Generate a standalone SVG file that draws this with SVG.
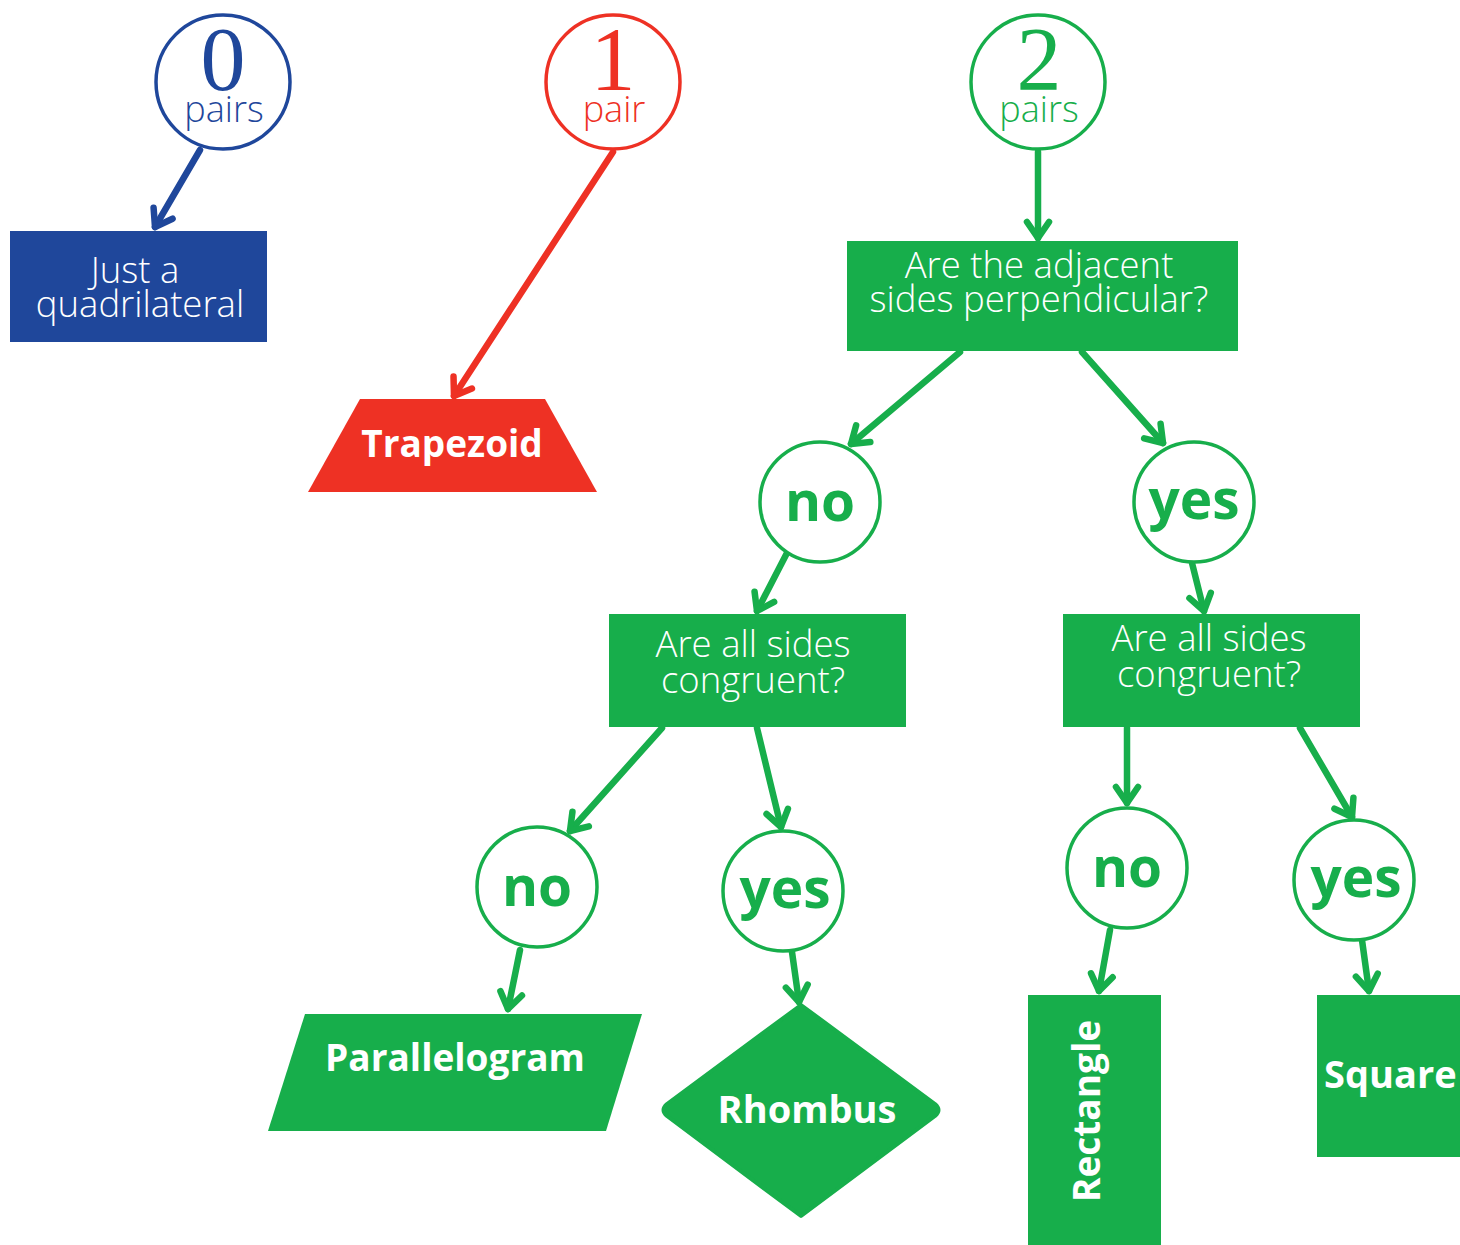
<svg xmlns="http://www.w3.org/2000/svg" width="1460" height="1245" viewBox="0 0 1460 1245">
<defs>
<style>
.lt{font-family:"Open Sans","Liberation Sans",sans-serif;font-weight:300;fill:#fff;text-anchor:middle}
.bd{font-family:"Open Sans","Liberation Sans",sans-serif;font-weight:700;fill:#fff;text-anchor:middle}
.num{font-family:"Liberation Serif",serif;text-anchor:middle}
.pr{font-family:"Open Sans","Liberation Sans",sans-serif;font-weight:300;text-anchor:middle;font-size:36px}
.yn{font-family:"Open Sans","Liberation Sans",sans-serif;font-weight:700;fill:#17ae4b;text-anchor:middle;font-size:55px}
.cg{fill:#fff;stroke:#17ae4b;stroke-width:3.5}
.ln{fill:none;stroke-width:6.5;stroke-linecap:round}
</style>
<marker id="ab" markerUnits="userSpaceOnUse" markerWidth="40" markerHeight="40" viewBox="-25 -20 40 40" refX="0" refY="0" orient="auto"><path d="M-16,-11 L0,0 L-16,11" fill="none" stroke="#1f479b" stroke-width="6.5" stroke-linecap="round" stroke-linejoin="round"/></marker>
<marker id="ar" markerUnits="userSpaceOnUse" markerWidth="40" markerHeight="40" viewBox="-25 -20 40 40" refX="0" refY="0" orient="auto"><path d="M-16,-11 L0,0 L-16,11" fill="none" stroke="#ee3124" stroke-width="6.5" stroke-linecap="round" stroke-linejoin="round"/></marker>
<marker id="ag" markerUnits="userSpaceOnUse" markerWidth="40" markerHeight="40" viewBox="-25 -20 40 40" refX="0" refY="0" orient="auto"><path d="M-16,-11 L0,0 L-16,11" fill="none" stroke="#17ae4b" stroke-width="6.5" stroke-linecap="round" stroke-linejoin="round"/></marker>
</defs>
<rect width="1460" height="1245" fill="#fff"/>
<g id="connectors">
<line class="ln" stroke="#1f479b" x1="200" y1="150" x2="155" y2="227" marker-end="url(#ab)"/>
<line class="ln" stroke="#ee3124" x1="613" y1="152" x2="454" y2="396" marker-end="url(#ar)"/>
<line class="ln" stroke="#17ae4b" x1="1038" y1="152" x2="1038" y2="238" marker-end="url(#ag)"/>
<line class="ln" stroke="#17ae4b" x1="960" y1="352" x2="851" y2="444" marker-end="url(#ag)"/>
<line class="ln" stroke="#17ae4b" x1="1082" y1="352" x2="1163" y2="443" marker-end="url(#ag)"/>
<line class="ln" stroke="#17ae4b" x1="788" y1="551" x2="757" y2="611" marker-end="url(#ag)"/>
<line class="ln" stroke="#17ae4b" x1="1192" y1="563" x2="1204" y2="611" marker-end="url(#ag)"/>
<line class="ln" stroke="#17ae4b" x1="662" y1="728" x2="570" y2="831" marker-end="url(#ag)"/>
<line class="ln" stroke="#17ae4b" x1="757" y1="728" x2="781" y2="827" marker-end="url(#ag)"/>
<line class="ln" stroke="#17ae4b" x1="1127" y1="728" x2="1127" y2="803" marker-end="url(#ag)"/>
<line class="ln" stroke="#17ae4b" x1="1300" y1="728" x2="1352" y2="817" marker-end="url(#ag)"/>
<line class="ln" stroke="#17ae4b" x1="520" y1="950" x2="508" y2="1009" marker-end="url(#ag)"/>
<line class="ln" stroke="#17ae4b" x1="792" y1="952" x2="799" y2="1002" marker-end="url(#ag)"/>
<line class="ln" stroke="#17ae4b" x1="1110" y1="930" x2="1099" y2="991" marker-end="url(#ag)"/>
<line class="ln" stroke="#17ae4b" x1="1362" y1="940" x2="1369" y2="991" marker-end="url(#ag)"/>
</g>
<g id="n0">
<circle cx="223" cy="82" r="67" fill="#fff" stroke="#1f479b" stroke-width="3.5"/>
<text class="num" x="223" y="90" font-size="90" fill="#1f479b">0</text>
<text class="pr" x="224" y="122" fill="#1f479b">pairs</text>
</g>
<g id="n1">
<circle cx="613" cy="82" r="67" fill="#fff" stroke="#ee3124" stroke-width="3.5"/>
<text class="num" x="613" y="90" font-size="90" fill="#ee3124">1</text>
<text class="pr" x="614" y="122" fill="#ee3124">pair</text>
</g>
<g id="n2">
<circle cx="1038" cy="82" r="67" fill="#fff" stroke="#17ae4b" stroke-width="3.5"/>
<text class="num" x="1039" y="90" font-size="90" fill="#17ae4b">2</text>
<text class="pr" x="1039" y="122" fill="#17ae4b">pairs</text>
</g>
<g id="quad">
<rect x="10" y="231" width="257" height="111" fill="#1f479b"/>
<text class="lt" font-size="36.5" x="135" y="283">Just a</text>
<text class="lt" font-size="36.5" x="140" y="317">quadrilateral</text>
</g>
<g id="trap">
<polygon points="360,399 545,399 597,492 308,492" fill="#ee3124"/>
<text class="bd" font-size="37" x="452" y="457">Trapezoid</text>
</g>
<g id="q1">
<rect x="847" y="241" width="391" height="110" fill="#17ae4b"/>
<text class="lt" font-size="36.5" x="1039" y="278">Are the adjacent</text>
<text class="lt" font-size="36.5" x="1039" y="312">sides perpendicular?</text>
</g>
<g id="no1"><circle class="cg" cx="820" cy="502" r="60"/><text class="yn" x="820" y="521">no</text></g>
<g id="yes1"><circle class="cg" cx="1194" cy="502" r="60"/><text class="yn" x="1194" y="519">yes</text></g>
<g id="q2">
<rect x="609" y="614" width="297" height="113" fill="#17ae4b"/>
<text class="lt" font-size="36.5" x="753" y="657">Are all sides</text>
<text class="lt" font-size="36.5" x="753" y="693">congruent?</text>
</g>
<g id="q3">
<rect x="1063" y="614" width="297" height="113" fill="#17ae4b"/>
<text class="lt" font-size="36.5" x="1209" y="651">Are all sides</text>
<text class="lt" font-size="36.5" x="1209" y="687">congruent?</text>
</g>
<g id="no2"><circle class="cg" cx="537" cy="887" r="60"/><text class="yn" x="537" y="906">no</text></g>
<g id="yes2"><circle class="cg" cx="783" cy="891" r="60"/><text class="yn" x="785" y="908">yes</text></g>
<g id="no3"><circle class="cg" cx="1127" cy="868" r="60"/><text class="yn" x="1127" y="887">no</text></g>
<g id="yes3"><circle class="cg" cx="1354" cy="880" r="60"/><text class="yn" x="1356" y="897">yes</text></g>
<g id="para">
<polygon points="305,1014 642,1014 606,1131 268,1131" fill="#17ae4b"/>
<text class="bd" font-size="37" x="455" y="1071">Parallelogram</text>
</g>
<g id="rhombus">
<path d="M801,1005 L935,1104 Q942,1110 935,1116 L801,1216 L667,1116 Q660,1110 667,1104 Z" fill="#17ae4b" stroke="#17ae4b" stroke-width="4" stroke-linejoin="round"/>
<text class="bd" font-size="38" x="807" y="1123">Rhombus</text>
</g>
<g id="rect">
<rect x="1028" y="995" width="133" height="260" fill="#17ae4b"/>
<text class="bd" font-size="37" transform="translate(1100,1111) rotate(-90)" x="0" y="0">Rectangle</text>
</g>
<g id="square">
<rect x="1317" y="995" width="160" height="162" fill="#17ae4b"/>
<text class="bd" font-size="38" x="1324" y="1088" style="text-anchor:start">Square</text>
</g>
</svg>
